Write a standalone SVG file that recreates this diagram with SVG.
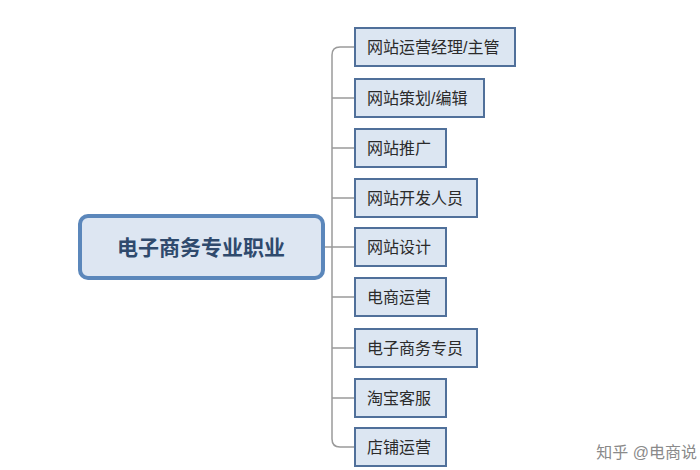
<svg xmlns="http://www.w3.org/2000/svg" width="700" height="470" viewBox="0 0 700 470">
<style>
.c{fill:#dce6f2;stroke:#50709a;stroke-width:2}
.t{font-family:"Liberation Sans","Noto Sans CJK SC",sans-serif;font-size:16px;fill:#2b2b2b;dominant-baseline:central}
.l{fill:none;stroke:#9a9a9a;stroke-width:1.5}
</style>
<rect width="700" height="470" fill="#fff"/>
<g id="connectors">
<path class="l" d="M355,47 H340 Q332,47 332,55 V439 Q332,447 340,447 H355"/>
<path class="l" d="M324,247 H355"/>
<path class="l" d="M332,98 H355 M332,148 H355 M332,198 H355 M332,297 H355 M332,348 H355 M332,398 H355"/>
</g>
<g id="root">
<rect x="80" y="216" width="243" height="62" rx="8" fill="#dde6f2" stroke="#5b87bb" stroke-width="4"/>
<text x="201" y="247" text-anchor="middle" font-family="Liberation Sans,'Noto Sans CJK SC',sans-serif" font-size="21" font-weight="bold" fill="#2f4a6d" dominant-baseline="central">电子商务专业职业</text>
</g>
<g id="n1"><rect class="c" x="355" y="28" width="160" height="38"/><text class="t" x="367" y="47">网站运营经理/主管</text></g>
<g id="n2"><rect class="c" x="355" y="79" width="129" height="38"/><text class="t" x="367" y="98">网站策划/编辑</text></g>
<g id="n3"><rect class="c" x="355" y="129" width="91" height="38"/><text class="t" x="367" y="148">网站推广</text></g>
<g id="n4"><rect class="c" x="355" y="179" width="122" height="38"/><text class="t" x="367" y="198">网站开发人员</text></g>
<g id="n5"><rect class="c" x="355" y="228" width="91" height="38"/><text class="t" x="367" y="247">网站设计</text></g>
<g id="n6"><rect class="c" x="355" y="278" width="91" height="38"/><text class="t" x="367" y="297">电商运营</text></g>
<g id="n7"><rect class="c" x="355" y="329" width="122" height="38"/><text class="t" x="367" y="348">电子商务专员</text></g>
<g id="n8"><rect class="c" x="355" y="379" width="91" height="38"/><text class="t" x="367" y="398">淘宝客服</text></g>
<g id="n9"><rect class="c" x="355" y="428" width="91" height="38"/><text class="t" x="367" y="447">店铺运营</text></g>
<text x="697" y="452" text-anchor="end" font-family="Liberation Sans,'Noto Sans CJK SC',sans-serif" font-size="16" fill="#8a8a8a" dominant-baseline="central">知乎 @电商说</text>
</svg>
